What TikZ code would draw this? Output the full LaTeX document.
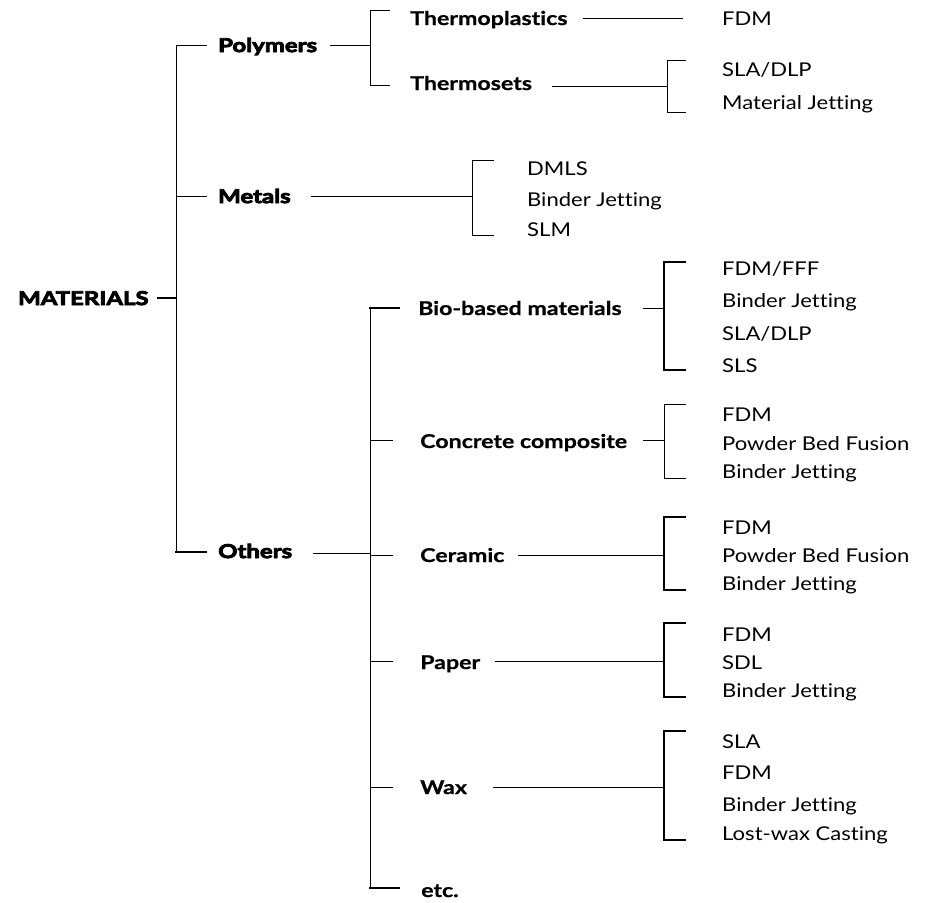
\documentclass[tikz,border=0pt]{standalone}
\usepackage{fontspec}
\setmainfont{Lato}[Ligatures=NoCommon,FakeStretch=1.16]
\newfontfamily\midfont{Lato}[Ligatures=NoCommon,FakeStretch=1.22,BoldFeatures={FakeBold=0.8}]
\newfontfamily\heavyfont{Lato}[Ligatures=NoCommon,FakeStretch=1.26,BoldFeatures={FakeBold=4.5}]
\begin{document}
\begin{tikzpicture}[x=1pt,y=-1pt,
  ln/.style={line width=1pt,black},
  thk/.style={line width=1.8pt,black},
  lvlone/.style={anchor=base west,inner sep=0pt,font=\heavyfont\bfseries\fontsize{19}{22}\selectfont},
  lvltwo/.style={anchor=base west,inner sep=0pt,font=\midfont\bfseries\fontsize{19}{22}\selectfont},
  leaf/.style={anchor=base west,inner sep=0pt,font=\fontsize{19}{22}\selectfont}]
\useasboundingbox (0,0) rectangle (931,902);
% root
\node[lvlone] (root) at (18,305) {MATERIALS};
\coordinate (rootend) at (176,298);
\draw[thk] (157,298) -- (rootend);
\coordinate (trunkT) at (176,45);
\coordinate (trunkB) at (176,552);
\draw[ln] (trunkT) -- (trunkB);
% level one
\node[lvlone] (poly) at (218,52) {Polymers};
\node[lvlone] (metal) at (218,203) {Metals};
\node[lvlone] (oth) at (218,558) {Others};
\draw[ln] (trunkT) -- (207,45);
\draw[ln] (176,196) -- (207,196);
\draw[thk] (175.1,552) -- (207,552);
% polymers
\draw[ln] (330,45) -- (370,45);
\draw[ln] (390,10) -- (370,10) -- (370,85) -- (390,85);
\node[lvltwo] (tpl) at (410,25) {Thermoplastics};
\node[lvltwo] (tst) at (410,90) {Thermosets};
\node[leaf] (fdm1) at (722,25) {FDM};
\draw[ln] (583,18) -- (683,18);
\draw[ln] (552,86) -- (667,86);
\draw[ln] (686,60) -- (667,60) -- (667,112) -- (686,112);
\node[leaf] (sla1) at (722,76) {SLA/DLP};
\node[leaf] (mj1) at (722,109) {Material Jetting};
% metals
\draw[ln] (311,196) -- (472,196);
\draw[ln] (494,160) -- (472,160) -- (472,235) -- (494,235);
\node[leaf] (dmls) at (527,175) {DMLS};
\node[leaf] (bjm) at (527,206) {Binder Jetting};
\node[leaf] (slm) at (527,236) {SLM};
% others
\draw[ln] (313,553) -- (370,553);
\draw[ln] (370,308) -- (370,888);
\draw[thk] (369.1,308) -- (400,308);
\draw[ln] (370,440) -- (393,440);
\draw[ln] (370,555) -- (393,555);
\draw[ln] (370,661) -- (393,661);
\draw[ln] (370,787) -- (393,787);
\draw[thk] (369.1,888) -- (400,888);
\node[lvltwo] (bio) at (418,315) {Bio-based materials};
\node[lvltwo] (conc) at (420,448) {Concrete composite};
\node[lvltwo] (cer) at (420,562) {Ceramic};
\node[lvltwo] (pap) at (420,669) {Paper};
\node[lvltwo] (wax) at (420,794) {Wax};
\node[lvltwo] (etc) at (421,897) {etc.};
% bio
\draw[ln] (643,308) -- (664,308);
\draw[thk] (686,262) -- (664,262) -- (664,370) -- (686,370);
\node[leaf] at (722,275) {FDM/FFF};
\node[leaf] at (722,307) {Binder Jetting};
\node[leaf] at (722,340) {SLA/DLP};
\node[leaf] at (722,372) {SLS};
% concrete
\draw[ln] (643,440) -- (664,440);
\draw[ln] (686,404) -- (664,404) -- (664,478) -- (686,478);
\node[leaf] at (722,421) {FDM};
\node[leaf] at (722,450) {Powder Bed Fusion};
\node[leaf] at (722,478) {Binder Jetting};
% ceramic
\draw[ln] (518,555) -- (664,555);
\draw[thk] (686,517) -- (664,517) -- (664,590) -- (686,590);
\node[leaf] at (722,534) {FDM};
\node[leaf] at (722,562) {Powder Bed Fusion};
\node[leaf] at (722,590) {Binder Jetting};
% paper
\draw[ln] (495,661) -- (664,661);
\draw[thk] (686,623) -- (664,623) -- (664,697) -- (686,697);
\node[leaf] at (722,641) {FDM};
\node[leaf] at (722,669) {SDL};
\node[leaf] at (722,697) {Binder Jetting};
% wax
\draw[ln] (493,787) -- (664,787);
\draw[thk] (686,731) -- (664,731) -- (664,840) -- (686,840);
\node[leaf] at (722,748) {SLA};
\node[leaf] at (722,779) {FDM};
\node[leaf] at (722,811) {Binder Jetting};
\node[leaf] at (722,840) {Lost-wax Casting};
\end{tikzpicture}
\end{document}
